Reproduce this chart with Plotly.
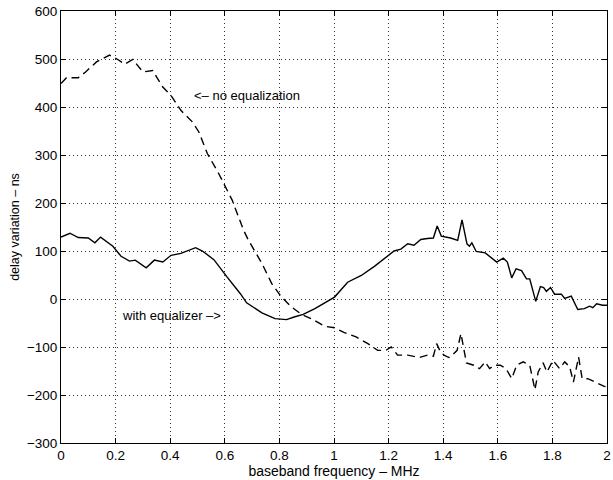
import plotly.graph_objects as go

# with equalizer (solid)
eq_x = [0.0, 0.033, 0.063, 0.1, 0.124, 0.145, 0.19, 0.22, 0.251, 0.272, 0.312, 0.342, 0.373,
        0.403, 0.439, 0.493, 0.518, 0.56, 0.608, 0.657, 0.68, 0.705, 0.736, 0.784, 0.826,
        0.857, 0.887, 0.93, 0.966, 1.002, 1.05, 1.1, 1.148, 1.196, 1.22, 1.245, 1.27, 1.293,
        1.318, 1.342, 1.364, 1.378, 1.393, 1.427, 1.453, 1.469, 1.487, 1.496, 1.505, 1.521,
        1.554, 1.596, 1.62, 1.635, 1.651, 1.667, 1.687, 1.705, 1.717, 1.739, 1.756, 1.768,
        1.778, 1.793, 1.808, 1.833, 1.845, 1.869, 1.893, 1.917, 1.936, 1.948, 1.962, 1.984, 2.0]
eq_y = [129, 137, 128, 127, 117, 129, 110, 89, 79, 81, 65, 81, 77,
        91, 95, 107, 100, 82, 46, 11, -8, -17, -29, -41, -43,
        -37, -32, -20, -8, 4, 35, 49, 68, 89, 100, 104, 115, 112,
        124, 126, 127, 152, 131, 127, 122, 165, 115, 110, 117, 99,
        96, 77, 85, 77, 44, 63, 59, 42, 42, -5, 26, 24,
        16, 24, 10, 10, 1, 6, -22, -20, -15, -18, -10, -13, -13]

# no equalization (dashed)
ne_x = [0.0, 0.02, 0.063, 0.09, 0.13, 0.178, 0.208, 0.233, 0.263, 0.3, 0.336, 0.372, 0.403,
        0.439, 0.481, 0.505, 0.536, 0.578, 0.627, 0.669, 0.687, 0.736, 0.772, 0.808, 0.845,
        0.881, 0.917, 0.966, 1.002, 1.038, 1.081, 1.124, 1.16, 1.19, 1.21, 1.233, 1.27, 1.312,
        1.342, 1.364, 1.376, 1.39, 1.403, 1.421, 1.433, 1.451, 1.465, 1.475, 1.485, 1.512,
        1.533, 1.554, 1.57, 1.587, 1.609, 1.63, 1.651, 1.669, 1.693, 1.717, 1.736, 1.748,
        1.766, 1.78, 1.802, 1.826, 1.845, 1.863, 1.877, 1.896, 1.909, 1.93, 1.954, 1.99, 2.0]
ne_y = [449, 461, 461, 473, 494, 508, 499, 489, 499, 473, 476, 442, 424,
        393, 369, 348, 303, 261, 206, 143, 122, 74, 32, 4, -17,
        -32, -41, -57, -60, -70, -79, -93, -107, -107, -100, -117, -117, -122,
        -117, -119, -93, -110, -117, -122, -117, -107, -72, -100, -133, -138,
        -145, -131, -145, -138, -138, -145, -166, -138, -131, -138, -189, -152,
        -133, -152, -128, -145, -131, -141, -173, -121, -166, -166, -173, -182, -183]

x_ticks = [0, 0.2, 0.4, 0.6, 0.8, 1, 1.2, 1.4, 1.6, 1.8, 2]
x_tick_text = ["0", "0.2", "0.4", "0.6", "0.8", "1", "1.2", "1.4", "1.6", "1.8", "2"]
y_ticks = [-300, -200, -100, 0, 100, 200, 300, 400, 500, 600]

fig = go.Figure()
fig.add_trace(go.Scatter(x=ne_x, y=ne_y, mode="lines",
                         line=dict(color="black", width=1.4, dash="8px,5px"), showlegend=False))
fig.add_trace(go.Scatter(x=eq_x, y=eq_y, mode="lines",
                         line=dict(color="black", width=1.4), showlegend=False))

fig.add_annotation(x=0.68, y=424, text="<– no equalization", showarrow=False,
                   xanchor="center", yanchor="middle", font=dict(size=13, color="black"))
fig.add_annotation(x=0.404, y=-34, text="with equalizer –>", showarrow=False,
                   xanchor="center", yanchor="middle", font=dict(size=13, color="black"))

axis_common = dict(showline=True, linecolor="black", linewidth=1, mirror="ticks",
                   ticks="inside", ticklen=5, tickcolor="black",
                   showgrid=True, gridcolor="#333", griddash="1px,3px", gridwidth=1,
                   zeroline=False, tickfont=dict(size=13.5, color="black"),
                   ticklabeloverflow="allow")

fig.update_xaxes(range=[0, 2], tickvals=x_ticks, ticktext=x_tick_text,
                 title=dict(text="baseband frequency – MHz", font=dict(size=14, color="black"),
                            standoff=0),
                 **axis_common)
fig.update_yaxes(range=[-300, 600], tickvals=y_ticks,
                 title=dict(text="delay variation – ns", font=dict(size=12.5, color="black"),
                            standoff=4),
                 **axis_common)

fig.update_layout(width=613, height=480, margin=dict(l=61, r=2, t=11, b=37),
                  paper_bgcolor="white", plot_bgcolor="white",
                  font=dict(family="Liberation Sans, Arial, sans-serif", color="black"))

fig.write_html("out.html")
